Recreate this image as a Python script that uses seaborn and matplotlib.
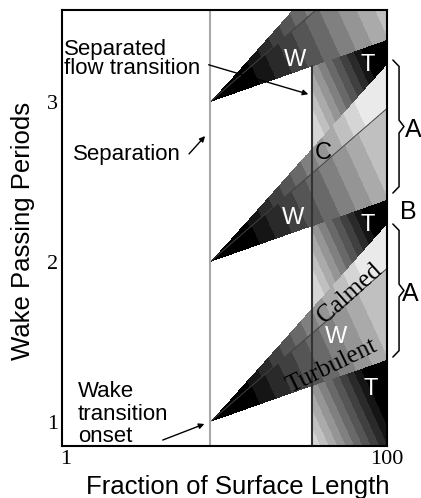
import numpy as np
import matplotlib
matplotlib.use("Agg")
import matplotlib.pyplot as plt
import seaborn as sns

# ---- data ----
periods = [1, 2, 3]          # wake passing period at each wedge apex
separation_x = 45.5          # separation line (% surface length)
transition_x = 77.0          # separated flow transition line
trailing_x = 100.0
# rise (in periods) of each wedge edge between separation and trailing edge
lower_rise = 0.39
divider_rise = 0.96
upper_rise = 1.24

x_ticks = [1, 100]
x_tick_labels = ["1", "100"]
y_ticks = [1, 2, 3]
y_tick_labels = ["1", "2", "3"]

xlim = (0, 100)
ylim = (0.85, 3.575)

sns.set_theme(style="white")
plt.rcParams["font.family"] = ["Liberation Sans", "DejaVu Sans"]
plt.rcParams["text.color"] = "black"
plt.rcParams["axes.labelcolor"] = "black"
SERIF = ["Liberation Serif", "DejaVu Serif"]

fig = plt.figure(figsize=(4.21, 4.98), dpi=100)
ax = fig.add_axes([0.1473, 0.1044, 0.772, 0.8755])

# ---- stepped grey shading of the wedges and the separated region ----
xs = np.linspace(xlim[0], xlim[1], 1300)
ys = np.linspace(ylim[0], ylim[1], 1750)
X, Y = np.meshgrid(xs, ys)
t = (X - separation_x) / (trailing_x - separation_x)
stripe = X + 22.6 * Y          # slanted banding coordinate
shade = np.full(X.shape, np.nan)

for i, n in enumerate(periods):
    lo = n + lower_rise * t
    mid = n + divider_rise * t
    up = n + upper_rise * t
    base = np.clip((stripe - (separation_x + 22.6 * n) - 12) / 55, 0, 1)
    calm = (X >= separation_x) & (Y > mid) & (Y <= up)
    wake = (X >= separation_x) & (Y >= lo) & (Y <= mid)
    shade[calm] = 0.92 * base[calm]
    shade[wake] = 0.8 * base[wake]
    # turbulent strip under each wedge, right of the separated flow transition
    if i > 0:
        prev_up = periods[i - 1] + upper_rise * t
    else:
        prev_up = np.full(X.shape, -np.inf)
    gap = (X >= transition_x) & (Y < lo) & (Y > prev_up)
    corner = trailing_x + 22.6 * (n + lower_rise)
    turb = np.clip((corner - stripe - 7) / 28, 0, 1) * 0.9
    shade[gap] = turb[gap]

shade = np.floor(shade * 12) / 12
ax.imshow(shade, cmap="gray", vmin=0, vmax=1, origin="lower", aspect="auto",
          extent=(xlim[0], xlim[1], ylim[0], ylim[1]), interpolation="nearest", zorder=1)

# divider between calmed and wake-induced parts
for n in periods:
    sns.lineplot(x=[separation_x, trailing_x], y=[n, n + divider_rise], ax=ax,
                 color="0.25", lw=0.7, zorder=3)

# separation and separated flow transition lines
ax.plot([separation_x, separation_x], ylim, color="#a8a8a8", lw=1.5, zorder=4)
top_lo = periods[-1] + lower_rise * (transition_x - separation_x) / (trailing_x - separation_x)
ax.plot([transition_x, transition_x], [ylim[0], top_lo], color="#333333", lw=1.5, zorder=4)

ax.set_xlim(*xlim)
ax.set_ylim(*ylim)
ax.set_xticks(x_ticks)
ax.set_xticklabels(x_tick_labels, family=SERIF, fontsize=16)
ax.set_yticks(y_ticks)
ax.set_yticklabels(y_tick_labels, family=SERIF, fontsize=16)
ax.tick_params(length=0, pad=3, colors="black")
for s in ax.spines.values():
    s.set_color("black")
    s.set_linewidth(1.5)
    s.set_zorder(6)

ax.set_xlabel("Fraction of Surface Length", fontsize=18.5)
ax.xaxis.set_label_coords(0.54, -0.094)
ax.xaxis.label.set_va("center")
ax.set_ylabel("Wake Passing Periods", fontsize=18.5)
ax.yaxis.set_label_coords(-0.12, 0.493)
ax.yaxis.label.set_va("center")

# ---- annotations ----
fs = 16
arrow = dict(arrowstyle="-|>", color="black", lw=1, mutation_scale=8)
ax.text(0.6, 3.294, "Separated", fontsize=fs, va="baseline")
ax.text(0.6, 3.175, "flow transition", fontsize=fs, va="baseline")
ax.annotate("", xy=(76.6, 3.044), xytext=(44.3, 3.2375), arrowprops=arrow, zorder=7)
ax.text(3.4, 2.6375, "Separation", fontsize=fs, va="baseline")
ax.annotate("", xy=(44.6, 2.8), xytext=(38.5, 2.6625), arrowprops=arrow, zorder=7)
ax.text(4.9, 1.156, "Wake", fontsize=fs, va="baseline")
ax.text(4.9, 1.0125, "transition", fontsize=fs, va="baseline")
ax.text(4.9, 0.875, "onset", fontsize=fs, va="baseline")
ax.annotate("", xy=(44.6, 0.994), xytext=(30.2, 0.881), arrowprops=arrow, zorder=7)

inner = [("W", 71.7, 3.2625, "white"), ("T", 94.2, 3.231, "white"),
         ("C", 80.3, 2.681, "black"), ("W", 71.1, 2.275, "white"),
         ("T", 94.2, 2.231, "white"), ("W", 84.3, 1.53, "white"),
         ("T", 95.1, 1.206, "white")]
for s, x, y, c in inner:
    ax.text(x, y, s, fontsize=17, color=c, ha="center", va="center", zorder=8)
ax.text(88.6, 1.806, "Calmed", family=SERIF, fontsize=18, rotation=42,
        ha="center", va="center", rotation_mode="anchor", zorder=8)
ax.text(83.1, 1.35, "Turbulent", family=SERIF, fontsize=18, rotation=26,
        ha="center", va="center", rotation_mode="anchor", zorder=8)

# ---- braces on the right ----
def brace(top, bot):
    m = (top + bot) / 2
    bx = [101.8, 103.7, 103.7, 105.2, 103.7, 103.7, 101.8]
    by = [top, top - 0.04, m + 0.04, m, m - 0.04, bot + 0.04, bot]
    ax.plot(bx, by, color="black", lw=1.1, clip_on=False, zorder=7)

brace(3.2625, 2.431)
brace(2.2375, 1.406)
ax.text(108.0, 2.825, "A", fontsize=18, ha="center", va="center", clip_on=False)
ax.text(106.5, 2.3125, "B", fontsize=18, ha="center", va="center", clip_on=False)
ax.text(107.1, 1.80, "A", fontsize=18, ha="center", va="center", clip_on=False)

fig.savefig("out.png", dpi=100)
